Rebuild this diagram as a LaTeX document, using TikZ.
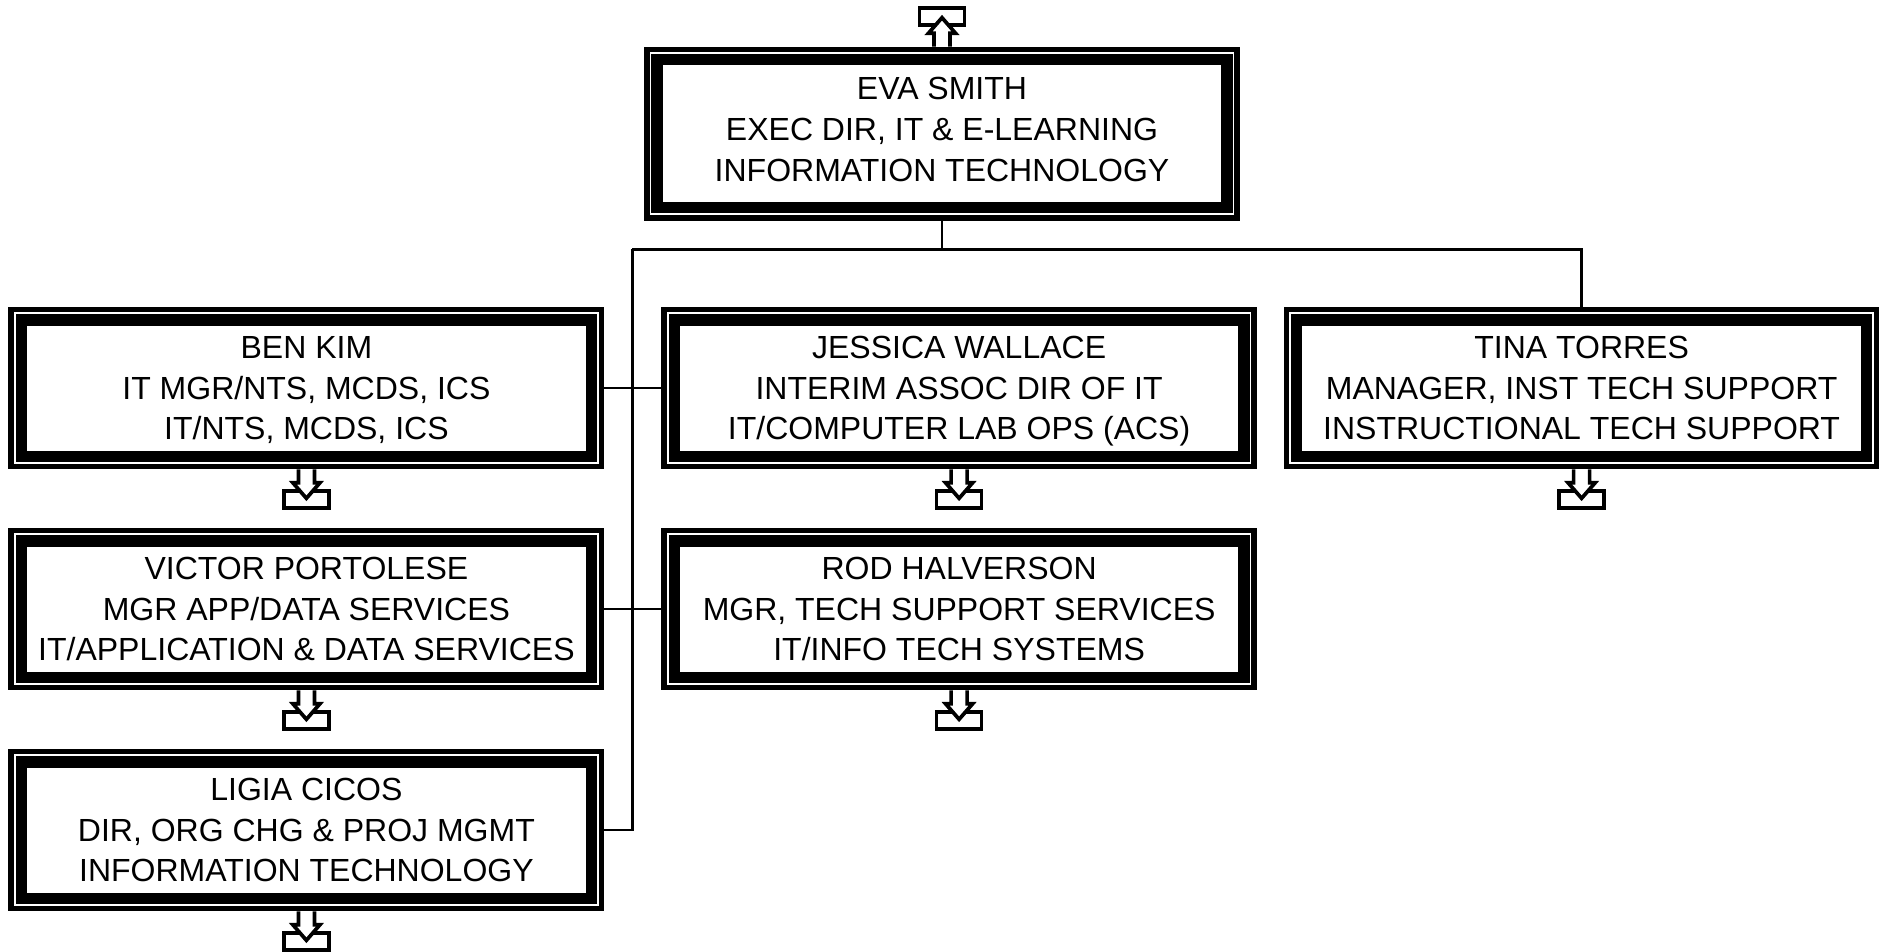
\documentclass[tikz,border=0pt]{standalone}
\usepackage{fontspec}
\setmainfont{Liberation Sans}
\usetikzlibrary{positioning}

\begin{document}
\begin{tikzpicture}[x=0.5pt, y=0.5pt,
        person/.style={draw, line width=2.85pt, align=center, font=\fontsize{16}{20.4}\selectfont,
          minimum width=295.15pt, minimum height=78.45pt, inner sep=0pt, text depth=0pt},
        innerframe/.style={draw, line width=5.7pt},
        link/.style={draw, line width=1.4pt},
        tabbox/.style={draw, line width=1.85pt, fill=white},
        pagearrow/.style={draw, line width=1.85pt, fill=white, miter limit=10}
        ]
        \useasboundingbox (0,0) rectangle (1879,-952);

        \node[person] (ben) at (306.4,-388) {BEN KIM\\ IT MGR/NTS, MCDS, ICS\\ IT/NTS, MCDS, ICS};
        \node[person, right = 28.35pt of ben] (jessica) {JESSICA WALLACE\\ INTERIM ASSOC DIR OF IT\\ IT/COMPUTER LAB OPS (ACS)};
        \node[person, right = 13.25pt of jessica] (tina) {TINA TORRES\\ MANAGER, INST TECH SUPPORT\\ INSTRUCTIONAL TECH SUPPORT};

        \node[person, below = 29.2pt of ben] (victor) {VICTOR PORTOLESE\\ MGR APP/DATA SERVICES\\ IT/APPLICATION \& DATA SERVICES};
        \node[person, right = 28.35pt of victor] (rod) {ROD HALVERSON\\ MGR, TECH SUPPORT SERVICES\\ IT/INFO TECH SYSTEMS};
        \node[person, below = 29.2pt of victor] (ligia) {LIGIA CICOS\\ DIR, ORG CHG \& PROJ MGMT\\ INFORMATION TECHNOLOGY};

        \node[person, minimum height=84.15pt, text depth=4.5pt] (eva) at (942,-133.7) {EVA SMITH\\ EXEC DIR, IT \& E-LEARNING\\ INFORMATION TECHNOLOGY};

        \foreach \n in {eva,ben,jessica,tina,victor,rod,ligia} {
          \draw[innerframe] ([shift={(13.1,13.1)}]\n.south west) rectangle ([shift={(-13.1,-13.1)}]\n.north east);
        }

        \coordinate (bus) at (632.3,-249.3);
        \draw[link] (eva.south) -- (eva.south |- bus);
        \draw[link] (bus) -| (tina.north);
        \draw[link] (bus) |- (ligia.east);
        \draw[link] (ben.east) -- (jessica.west);
        \draw[link] (victor.east) -- (rod.west);

        \foreach \n in {ben,jessica,tina,victor,rod,ligia} {
          \draw[tabbox] ([shift={(-22.5,-22)}]\n.south) rectangle ([shift={(22.5,-39)}]\n.south);
          \draw[pagearrow] ([shift={(-8,0)}]\n.south) -- ++(0,-13.5) -- ++(-5.5,0) -- ++(13.5,-15.5) -- ++(13.5,15.5) -- ++(-5.5,0) -- ++(0,13.5);
        }
        \draw[tabbox] ([shift={(-22.5,22)}]eva.north) rectangle ([shift={(22.5,39)}]eva.north);
        \draw[pagearrow] ([shift={(-8,0)}]eva.north) -- ++(0,13.5) -- ++(-5.5,0) -- ++(13.5,15.5) -- ++(13.5,-15.5) -- ++(-5.5,0) -- ++(0,-13.5);
      \end{tikzpicture}
\end{document}
